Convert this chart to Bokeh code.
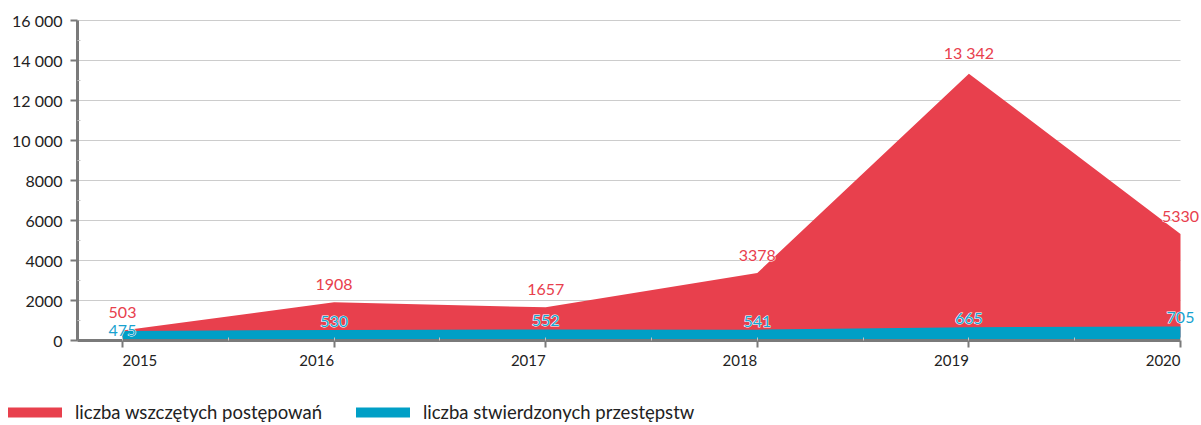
from bokeh.plotting import figure
from bokeh.models import (ColumnDataSource, LabelSet, Legend, LegendItem,
                          SingleIntervalTicker, FixedTicker, Range1d)
from bokeh.core.properties import value
from bokeh.embed import file_html
from bokeh.resources import INLINE

years = [2015, 2016, 2017, 2018, 2019, 2020]
year_labels = ["2015", "2016", "2017", "2018", "2019", "2020"]
proceedings = [503, 1908, 1657, 3378, 13342, 5330]
crimes = [475, 530, 552, 541, 665, 705]
proceedings_labels = ["503", "1908", "1657", "3378", "13 342", "5330"]
crimes_labels = ["475", "530", "552", "541", "665", "705"]
y_ticks = [0, 2000, 4000, 6000, 8000, 10000, 12000, 14000, 16000]
y_tick_labels = ["0", "2000", "4000", "6000", "8000", "10 000", "12 000", "14 000", "16 000"]
series_names = ["liczba wszczętych postępowań", "liczba stwierdzonych przestępstw"]

RED = "#E8404D"
BLUE = "#009FC6"
RED_TXT = "#E8404D"
BLUE_TXT = "#17A2CF"
FONT = "Lato"
AXIS = "#7a7a7a"

# layout constants (pixels -> data)
W, H = 1200, 424
PX_PER_YEAR = 211.6
PX_PER_UNIT = 20 / 1000.0
X_AXIS_START = years[0] - 45 / PX_PER_YEAR
x_start = years[0] - 122 / PX_PER_YEAR
x_end = x_start + W / PX_PER_YEAR
y_top = 340 / PX_PER_UNIT
y_bottom = -(H - 340) / PX_PER_UNIT

n = len(years)
src = ColumnDataSource(dict(
    x=years, p=proceedings, c=crimes,
    pl=proceedings_labels, cl=crimes_labels,
    yl=year_labels, zero=[0] * n,
))


def subset(idx):
    d = {k: [v[i] for i in idx] for k, v in src.data.items()}
    return ColumnDataSource(d)


src_first = subset([0])
src_rest = subset(list(range(1, n)))

p = figure(width=W, height=H, output_backend="svg", toolbar_location=None,
           x_range=Range1d(x_start, x_end), y_range=Range1d(y_bottom, y_top),
           min_border=0)
p.outline_line_color = None
p.background_fill_color = "white"
p.border_fill_color = "white"
p.xgrid.grid_line_color = None
p.ygrid.grid_line_color = None

# horizontal grid lines
p.segment(x0=[X_AXIS_START] * len(y_ticks), x1=[years[-1]] * len(y_ticks),
          y0=y_ticks, y1=y_ticks, line_color="#cccccc", line_width=1)

p.varea(x="x", y1="zero", y2="p", source=src, fill_color=RED)
p.varea(x="x", y1="zero", y2="c", source=src, fill_color=BLUE)

# axes (fixed inside the frame)
p.xaxis.fixed_location = 0
p.xaxis.bounds = (X_AXIS_START, years[-1])
p.xaxis.ticker = SingleIntervalTicker(interval=1, num_minor_ticks=2)
p.xaxis.major_label_text_font_size = "0px"
p.xaxis.major_label_text_color = None

p.yaxis.fixed_location = X_AXIS_START
p.yaxis.bounds = (y_ticks[0], y_ticks[-1])
minor_y = [(a + b) / 2 for a, b in zip(y_ticks[:-1], y_ticks[1:])]
p.yaxis.ticker = FixedTicker(ticks=y_ticks, minor_ticks=minor_y)
p.yaxis.major_label_overrides = {t: l for t, l in zip(y_ticks, y_tick_labels)}
p.yaxis.major_label_standoff = 8

for ax in (p.xaxis, p.yaxis):
    ax.axis_line_color = AXIS
    ax.axis_line_width = 3
    ax.major_tick_line_color = AXIS
    ax.major_tick_line_width = 2
    ax.major_tick_out = 7
    ax.major_tick_in = 0
    ax.minor_tick_line_color = "#c4c4c4"
    ax.minor_tick_line_width = 1
    ax.minor_tick_in = 3
    ax.minor_tick_out = 0
p.yaxis.major_label_text_font = FONT
p.yaxis.major_label_text_font_size = "16px"
p.yaxis.major_label_text_color = "#222222"

# x tick labels (first left-aligned, others right-aligned)
common_x = dict(x="x", y="zero", text="yl", text_baseline="top", y_offset=-14,
                text_font=value(FONT), text_font_size="15px", text_color="#222222")
p.add_layout(LabelSet(source=src_first, text_align="left", **common_x))
p.add_layout(LabelSet(source=src_rest, text_align="right", **common_x))

# value labels with white halo (white outlined underlay + coloured text)
red_common = dict(x="x", y="p", text="pl", source=src, text_align="center",
                  text_baseline="bottom", y_offset=12, text_font=value(FONT),
                  text_font_size="16px")
p.add_layout(LabelSet(text_color="white", text_outline_color="white", **red_common))
p.add_layout(LabelSet(text_color=RED_TXT, **red_common))

blue_common = dict(x="x", y="c", text="cl", text_align="center",
                   text_baseline="bottom", text_font=value(FONT), text_font_size="16px")
for s, off in ((src_first, -5), (src_rest, 3)):
    p.add_layout(LabelSet(source=s, y_offset=off, text_color="white",
                          text_outline_color="white", **blue_common))
    p.add_layout(LabelSet(source=s, y_offset=off, text_color=BLUE_TXT, **blue_common))

# legend
nan = float("nan")
r1 = p.line([nan], [nan], line_color=RED, line_width=10, line_cap="round")
r2 = p.line([nan], [nan], line_color=BLUE, line_width=10, line_cap="round")
legend = Legend(items=[LegendItem(label=series_names[0], renderers=[r1]),
                       LegendItem(label=series_names[1], renderers=[r2])],
                orientation="horizontal", location=(8, 1),
                glyph_width=54, glyph_height=20, label_standoff=13,
                spacing=34, padding=0, margin=0,
                border_line_color=None, background_fill_alpha=0,
                label_text_font=FONT, label_text_font_size="18.5px",
                label_text_color="#222222")
p.add_layout(legend, "center")

open("out.html", "w").write(file_html(p, INLINE))
